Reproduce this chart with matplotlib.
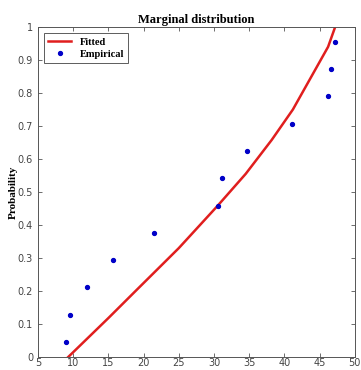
import matplotlib.pyplot as plt

# fitted CDF
fit_x = [9.3, 15.0, 19.0, 25.0, 30.5, 34.5, 38.2, 41.2, 46.2, 47.2]
fit_y = [0.0, 0.118, 0.203, 0.33, 0.458, 0.555, 0.658, 0.75, 0.94, 1.0]

# empirical points
emp_x = [9.0, 9.6, 11.9, 15.6, 21.5, 30.5, 31.2, 34.7, 41.1, 46.2, 46.6, 47.2]
emp_y = [0.045, 0.128, 0.212, 0.294, 0.377, 0.458, 0.541, 0.624, 0.706, 0.79, 0.873, 0.955]

xticks = [5, 10, 15, 20, 25, 30, 35, 40, 45, 50]
yticks = [0, 0.1, 0.2, 0.3, 0.4, 0.5, 0.6, 0.7, 0.8, 0.9, 1]

fig = plt.figure(figsize=(3.61, 3.70), dpi=100)
ax = fig.add_axes([0.105, 0.035, 0.878, 0.892])

ax.plot(fit_x, fit_y, color='#e01e1e', lw=1.8, label='Fitted')
ax.plot(emp_x, emp_y, 'o', color='#0000c8', ms=2.8, ls='none', label='Empirical')

ax.set_xlim(5, 50)
ax.set_ylim(0, 1)
ax.set_xticks(xticks)
ax.set_yticks(yticks)
ax.set_yticklabels(['0', '0.1', '0.2', '0.3', '0.4', '0.5', '0.6', '0.7', '0.8', '0.9', '1'])

ax.tick_params(direction='in', top=True, right=True, labelsize=7, length=3,
               colors='#555555', labelcolor='#444444', width=0.6)
ax.tick_params(axis='x', pad=1)
for s in ax.spines.values():
    s.set_color('#555555')
    s.set_linewidth(0.7)

serif = 'Liberation Serif'
ax.set_title('Marginal distribution', fontsize=9, fontweight='bold', family=serif, pad=3)
ax.set_ylabel('Probability', fontsize=8, fontweight='bold', family=serif)
ax.yaxis.set_label_coords(-0.062, 0.5)

leg = ax.legend(loc='upper left', prop={'family': serif, 'weight': 'bold', 'size': 7.5},
                fancybox=False, edgecolor='#333333', handlelength=2.2,
                borderpad=0.4, labelspacing=0.3, borderaxespad=0.6)
leg.get_frame().set_linewidth(0.7)

plt.savefig('out.png', dpi=100)
